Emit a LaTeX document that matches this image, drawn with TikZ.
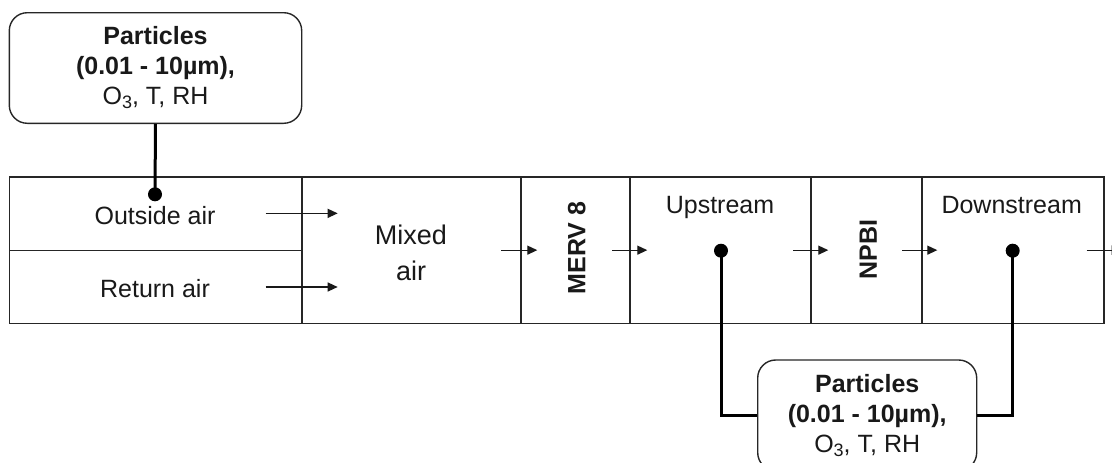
\documentclass[tikz,border=0pt]{standalone}
\usepackage{fontspec}
\setmainfont{Liberation Sans}
\usetikzlibrary{arrows.meta}
\newcommand{\subthree}{\raisebox{-4pt}{\fontsize{18}{18}\selectfont 3}}
\begin{document}
\begin{tikzpicture}[x=1pt,y=-1pt,
  cellbox/.style={draw=black!85, line width=1.4pt, inner sep=0pt},
  lbl/.style={font=\fontsize{25}{30}\selectfont, text=black!90, inner sep=0pt},
  boldlbl/.style={font=\fontsize{25}{30}\selectfont\bfseries, text=black!90, inner sep=0pt},
  infobox/.style={draw=black!85, line width=1.4pt, rounded corners=18pt, align=center,
    font=\fontsize{25}{30}\selectfont, text=black!90, inner sep=0pt, minimum height=110.6pt},
  flow/.style={line width=1.3pt, black!90, -{Triangle[length=10pt,width=9pt]}},
  probe/.style={line width=3pt, black},
  probedot/.style={circle, fill=black, inner sep=0pt, minimum size=14pt}]
\useasboundingbox (0,0) rectangle (1112,463);
% cells of the air handler
\node[cellbox, minimum width=292.5pt, minimum height=73.7pt] (oa) at (155.75,213.85) {};
\node[cellbox, minimum width=292.5pt, minimum height=72.6pt] (ra) at (155.75,287) {};
\node[cellbox, minimum width=219pt, minimum height=146.3pt] (mix) at (411.5,250.15) {};
\node[cellbox, minimum width=109pt, minimum height=146.3pt] (merv) at (575.5,250.15) {};
\node[cellbox, minimum width=181pt, minimum height=146.3pt] (up) at (720.5,250.15) {};
\node[cellbox, minimum width=111pt, minimum height=146.3pt] (npbi) at (866.5,250.15) {};
\node[cellbox, minimum width=182pt, minimum height=146.3pt] (down) at (1013,250.15) {};
% labels
\node[lbl, anchor=base] (oat) at (155,224.3) {Outside air};
\node[lbl, anchor=base] (rat) at (155,297.7) {Return air};
\node[lbl, align=center, font=\fontsize{27}{36}\selectfont] (mixt) at (411,253) {Mixed\\air};
\node[boldlbl, rotate=90] (mervt) at (576.7,248) {MERV 8};
\node[boldlbl, rotate=90] (npbit) at (868.3,249.5) {NPBI};
\node[lbl, anchor=base] (upt) at (720,213.5) {Upstream};
\node[lbl, anchor=base] (downt) at (1011.7,213.5) {Downstream};
% flow arrows
\draw[flow] ([xshift=-37pt,yshift=0.5pt]oa.east) -- ([xshift=35pt,yshift=0.5pt]oa.east);
\draw[flow] ([xshift=-37pt]ra.east) -- ([xshift=35pt]ra.east);
\draw[flow] ([xshift=-19pt]merv.west) -- ([xshift=17pt]merv.west);
\draw[flow] ([xshift=-17pt]up.west) -- ([xshift=18pt]up.west);
\draw[flow] ([xshift=-17pt]npbi.west) -- ([xshift=18pt]npbi.west);
\draw[flow] ([xshift=-19pt]down.west) -- ([xshift=16pt]down.west);
\draw[flow] ([xshift=-18pt]down.east) -- ([xshift=17pt]down.east);
% sampling boxes
\node[infobox, minimum width=292.4pt] (topbox) at (155.5,68) {\textbf{Particles}\\\textbf{(0.01 - 10µm),}\\O\subthree, T, RH};
\node[infobox, minimum width=219pt] (botbox) at (867.2,415.3) {\textbf{Particles}\\\textbf{(0.01 - 10µm),}\\O\subthree, T, RH};
% sampling points
\coordinate (pOA) at (155,194.3);
\coordinate (pUp) at (721,250.7);
\coordinate (pDown) at (1012.7,250.7);
\draw[probe] (topbox.south) -- (pOA);
\draw[probe] (pUp) |- (botbox.west);
\draw[probe] (pDown) |- (botbox.east);
\node[probedot] (dOA) at (pOA) {};
\node[probedot] (dUp) at (pUp) {};
\node[probedot] (dDown) at (pDown) {};
\end{tikzpicture}
\end{document}
